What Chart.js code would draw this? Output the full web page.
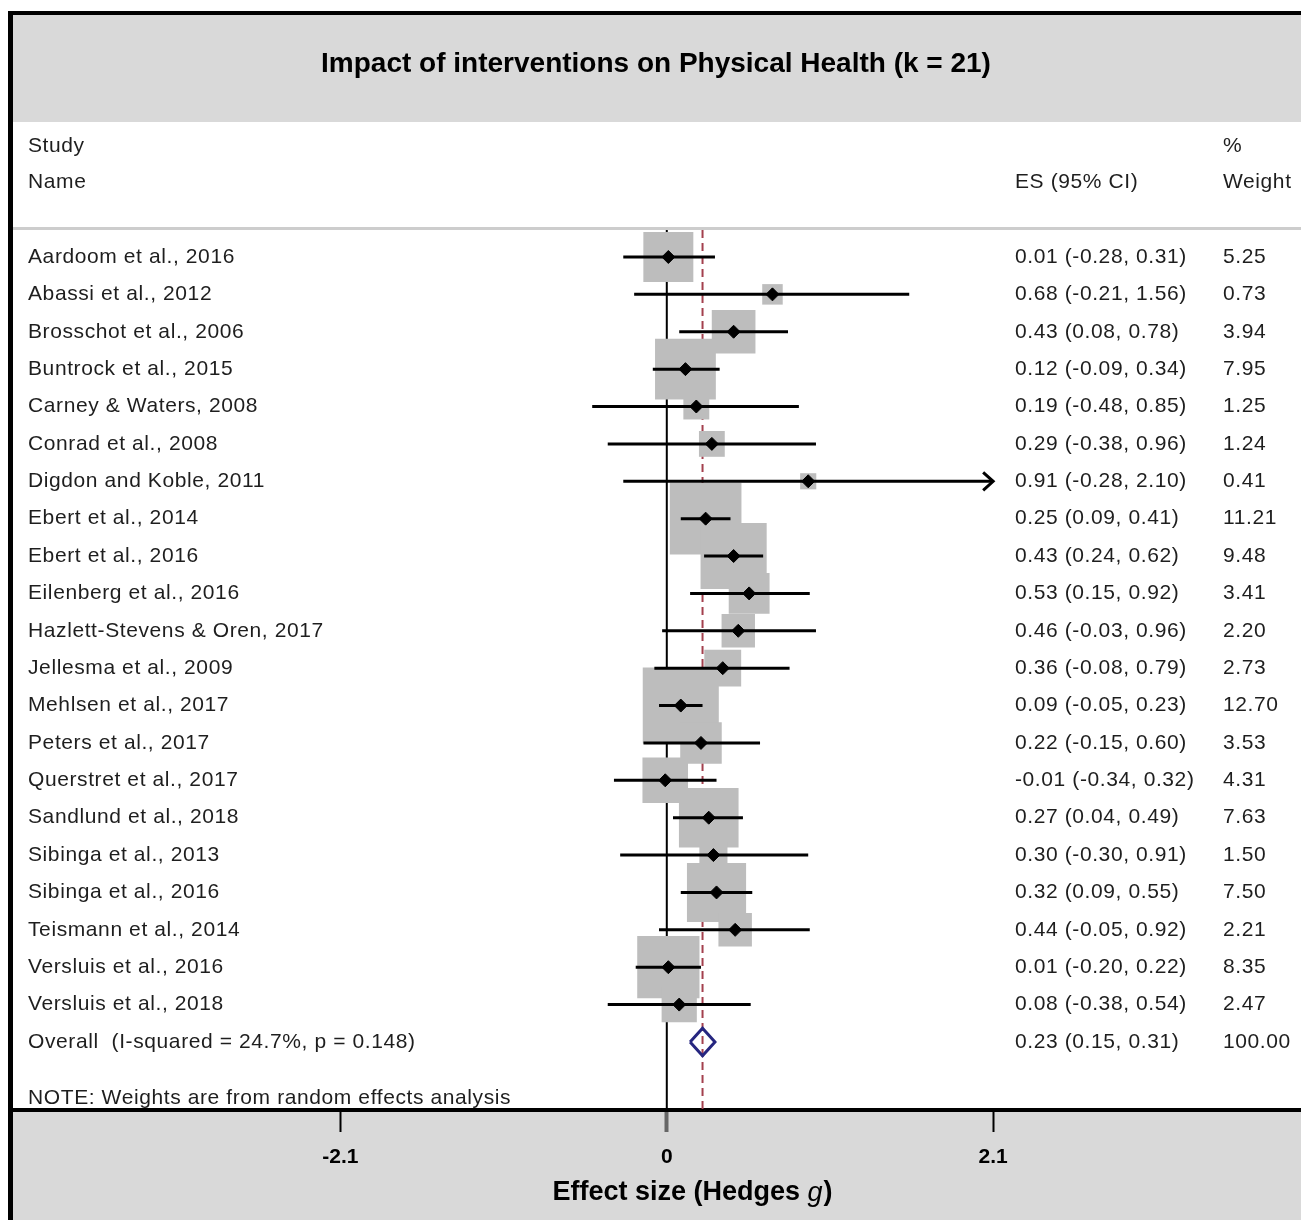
<!DOCTYPE html>
<html>
<head>
<meta charset="utf-8">
<script src="https://cdn.jsdelivr.net/npm/chart.js@4.4.0/dist/chart.umd.min.js"></script>
<style>
  html, body { margin: 0; padding: 0; background: #fff; }
  #wrap { width: 1301px; height: 1220px; }
</style>
</head>
<body>
<div id="wrap"><canvas id="forest" width="1301" height="1220"></canvas></div>
<script>
// study rows, top to bottom
const studyNames = [
  'Aardoom et al., 2016', 'Abassi et al., 2012', 'Brosschot et al., 2006', 'Buntrock et al., 2015',
  'Carney & Waters, 2008', 'Conrad et al., 2008', 'Digdon and Koble, 2011', 'Ebert et al., 2014',
  'Ebert et al., 2016', 'Eilenberg et al., 2016', 'Hazlett-Stevens & Oren, 2017', 'Jellesma et al., 2009',
  'Mehlsen et al., 2017', 'Peters et al., 2017', 'Querstret et al., 2017', 'Sandlund et al., 2018',
  'Sibinga et al., 2013', 'Sibinga et al., 2016', 'Teismann et al., 2014', 'Versluis et al., 2016',
  'Versluis et al., 2018'
];
const effectSizes = [0.01, 0.68, 0.43, 0.12, 0.19, 0.29, 0.91, 0.25, 0.43, 0.53, 0.46, 0.36, 0.09, 0.22, -0.01, 0.27, 0.30, 0.32, 0.44, 0.01, 0.08];
const ciLower = [-0.28, -0.21, 0.08, -0.09, -0.48, -0.38, -0.28, 0.09, 0.24, 0.15, -0.03, -0.08, -0.05, -0.15, -0.34, 0.04, -0.30, 0.09, -0.05, -0.20, -0.38];
const ciUpper = [0.31, 1.56, 0.78, 0.34, 0.85, 0.96, 2.10, 0.41, 0.62, 0.92, 0.96, 0.79, 0.23, 0.60, 0.32, 0.49, 0.91, 0.55, 0.92, 0.22, 0.54];
const weights = [5.25, 0.73, 3.94, 7.95, 1.25, 1.24, 0.41, 11.21, 9.48, 3.41, 2.20, 2.73, 12.70, 3.53, 4.31, 7.63, 1.50, 7.50, 2.21, 8.35, 2.47];

const overallLabel = 'Overall  (I-squared = 24.7%, p = 0.148)';
const overallEffect = 0.23;
const overallLower = 0.15;
const overallUpper = 0.31;
const overallWeight = 100.00;

const axisTicks = [-2.1, 0, 2.1];
const axisTickLabels = ['-2.1', '0', '2.1'];

// scale extents (set so the plot sits where the original does)
const xMin = -4.207, xMax = 4.081;
const yMin = -0.722, yMax = 22.82;
const arrowLimit = 2.1;

const FONT = '"Liberation Sans", Arial, sans-serif';
const overallRow = studyNames.length;

const fmt = v => v.toFixed(2);
const esText = (e, l, u) => `${fmt(e)} (${fmt(l)}, ${fmt(u)})`;

// datasets
const datasets = [];

datasets.push({
  label: 'null line',
  data: [{ x: 0, y: yMin }, { x: 0, y: yMax }],
  showLine: true, borderColor: '#000', borderWidth: 2, pointRadius: 0, order: 10
});

datasets.push({
  label: 'overall line',
  data: [{ x: overallEffect, y: yMin }, { x: overallEffect, y: yMax }],
  showLine: true, borderColor: '#a3404e', borderWidth: 2, borderDash: [8, 5], pointRadius: 0, order: 9
});

datasets.push({
  label: 'weights',
  data: effectSizes.map((e, i) => ({ x: e, y: i })),
  pointStyle: 'rect',
  pointRadius: weights.map(w => (20.5 * Math.sqrt(w) + 3) / Math.SQRT2),
  backgroundColor: '#bdbdbd', borderWidth: 0, order: 8
});

studyNames.forEach((name, i) => {
  datasets.push({
    label: name + ' CI',
    data: [{ x: ciLower[i], y: i }, { x: ciUpper[i], y: i }],
    showLine: true, borderColor: '#000', borderWidth: 3, pointRadius: 0, order: 7
  });
});

datasets.push({
  label: 'estimates',
  data: effectSizes.map((e, i) => ({ x: e, y: i })),
  pointStyle: 'rectRot', pointRadius: 6.5,
  backgroundColor: '#000', borderColor: '#000', borderWidth: 1, order: 6
});

const dh = 0.37;
datasets.push({
  label: 'overall',
  data: [
    { x: overallLower, y: overallRow }, { x: overallEffect, y: overallRow - dh },
    { x: overallUpper, y: overallRow }, { x: overallEffect, y: overallRow + dh },
    { x: overallLower, y: overallRow }
  ],
  showLine: true, borderColor: '#262680', borderWidth: 3, borderJoinStyle: 'miter',
  pointRadius: 0, order: 5
});

// frame, grey bands
const framePlugin = {
  id: 'frame',
  beforeDraw(chart) {
    const ctx = chart.ctx;
    const W = chart.width, H = chart.height;
    ctx.save();
    ctx.fillStyle = '#fff';
    ctx.fillRect(0, 0, W, H);
    ctx.fillStyle = '#d9d9d9';
    ctx.fillRect(13, 15, W - 13, 107);
    ctx.fillRect(13, chart.chartArea.bottom, W - 13, H - chart.chartArea.bottom);
    ctx.fillStyle = '#cdcdcd';
    ctx.fillRect(13, 227, W - 13, 3);
    ctx.fillStyle = '#000';
    ctx.fillRect(8, 11, 5, H - 11);
    ctx.fillRect(8, 11, W - 8, 4);
    ctx.restore();
  }
};

// arrow for CIs running past the axis limit
const arrowPlugin = {
  id: 'arrows',
  afterDatasetsDraw(chart) {
    const { ctx, scales: { x, y } } = chart;
    ctx.save();
    ctx.strokeStyle = '#000';
    ctx.lineWidth = 3;
    ctx.lineJoin = 'miter';
    ciUpper.forEach((u, i) => {
      if (u < arrowLimit) return;
      const px = x.getPixelForValue(u), py = y.getPixelForValue(i);
      ctx.beginPath();
      ctx.moveTo(px - 10, py - 9);
      ctx.lineTo(px, py);
      ctx.lineTo(px - 10, py + 9);
      ctx.stroke();
    });
    ctx.restore();
  }
};

// table text
const textPlugin = {
  id: 'tableText',
  afterDraw(chart) {
    const { ctx, scales: { y } } = chart;
    ctx.save();
    ctx.fillStyle = '#000';
    ctx.textBaseline = 'middle';
    ctx.textAlign = 'center';
    ctx.font = `bold 28px ${FONT}`;
    ctx.fillText('Impact of interventions on Physical Health (k = 21)', 656, 64);

    ctx.textAlign = 'left';
    ctx.font = `21px ${FONT}`;
    ctx.letterSpacing = '0.6px';
    ctx.fillStyle = '#1e1e1e';
    ctx.fillText('Study', 28, 146);
    ctx.fillText('Name', 28, 182);
    ctx.fillText('ES (95% CI)', 1015, 182);
    ctx.fillText('%', 1223, 146);
    ctx.fillText('Weight', 1223, 182);

    studyNames.forEach((name, i) => {
      const py = y.getPixelForValue(i);
      ctx.fillText(name, 28, py);
      ctx.fillText(esText(effectSizes[i], ciLower[i], ciUpper[i]), 1015, py);
      ctx.fillText(fmt(weights[i]), 1223, py);
    });
    const oy = y.getPixelForValue(overallRow);
    ctx.fillText(overallLabel, 28, oy);
    ctx.fillText(esText(overallEffect, overallLower, overallUpper), 1015, oy);
    ctx.fillText(fmt(overallWeight), 1223, oy);

    ctx.fillText('NOTE: Weights are from random effects analysis', 28, 1098);

    // axis title with italic g
    ctx.letterSpacing = '0px';
    ctx.fillStyle = '#000';
    const p1 = 'Effect size (Hedges ', p2 = 'g', p3 = ')';
    const size = 27;
    ctx.font = `bold ${size}px ${FONT}`;
    const w1 = ctx.measureText(p1).width, w3 = ctx.measureText(p3).width;
    ctx.font = `italic ${size}px ${FONT}`;
    const w2 = ctx.measureText(p2).width;
    let tx = 692 - (w1 + w2 + w3) / 2;
    const ty = 1193;
    ctx.font = `bold ${size}px ${FONT}`;
    ctx.fillText(p1, tx, ty); tx += w1;
    ctx.font = `italic ${size}px ${FONT}`;
    ctx.fillText(p2, tx, ty); tx += w2 + 1;
    ctx.font = `bold ${size}px ${FONT}`;
    ctx.fillText(p3, tx, ty);
    ctx.restore();
  }
};

new Chart(document.getElementById('forest'), {
  type: 'scatter',
  data: { datasets },
  options: {
    responsive: false,
    animation: false,
    devicePixelRatio: 1,
    layout: { autoPadding: false, padding: { left: 13, right: 0, top: 230, bottom: 0 } },
    plugins: {
      legend: { display: false },
      tooltip: { enabled: false },
      title: { display: false }
    },
    scales: {
      x: {
        type: 'linear', position: 'bottom', min: xMin, max: xMax,
        afterFit: s => { s.height = 110; },
        afterBuildTicks: s => { s.ticks = axisTicks.map(v => ({ value: v })); },
        ticks: {
          autoSkip: false, maxRotation: 0, padding: 13, color: '#000',
          font: { family: FONT, size: 21, weight: 'bold' },
          callback: (v, i) => axisTickLabels[i]
        },
        grid: {
          drawOnChartArea: false, drawTicks: true, tickLength: 22,
          tickWidth: c => (c.tick && c.tick.value === 0 ? 4 : 2),
          tickColor: c => (c.tick && c.tick.value === 0 ? '#666' : '#000')
        },
        border: { display: true, color: '#000', width: 4 }
      },
      y: { type: 'linear', min: yMin, max: yMax, reverse: true, display: false }
    }
  },
  plugins: [framePlugin, arrowPlugin, textPlugin]
});
</script>
</body>
</html>
